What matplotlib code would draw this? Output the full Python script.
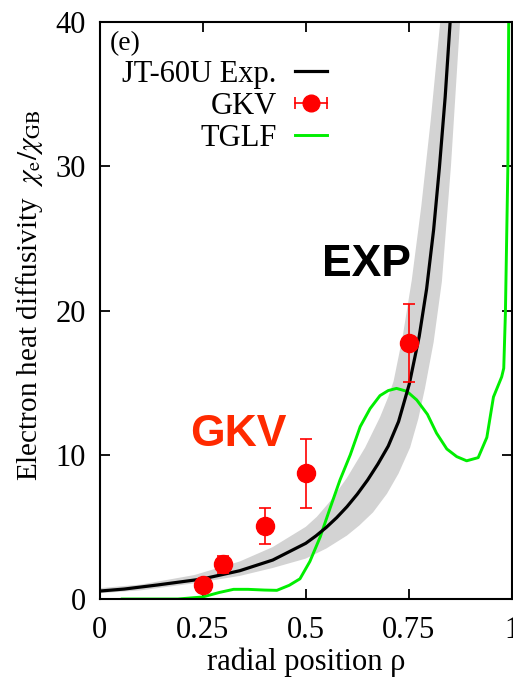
import numpy as np
import matplotlib
matplotlib.use("Agg")
from matplotlib import pyplot as plt
from matplotlib.lines import Line2D
from matplotlib.legend_handler import HandlerBase

# JT-60U experimental profile (black line)
exp_x = [0.0, 0.06, 0.14, 0.25, 0.34, 0.42, 0.5, 0.525, 0.55, 0.575, 0.6,
         0.625, 0.65, 0.675, 0.7, 0.725, 0.751, 0.775, 0.793, 0.81, 0.824,
         0.838, 0.85, 0.862]
exp_y = [0.55, 0.69, 0.97, 1.39, 1.96, 2.7, 3.86, 4.38, 4.97, 5.64, 6.4,
         7.27, 8.25, 9.36, 10.6, 12.3, 14.9, 18.2, 21.5, 25.6, 29.9,
         34.8, 40.0, 46.0]

# uncertainty band edges
band_hi_x = [0.0, 0.1, 0.23, 0.34, 0.42, 0.5, 0.527, 0.56, 0.6, 0.644,
             0.68, 0.7, 0.713, 0.735, 0.757, 0.78, 0.803, 0.826, 0.85]
band_hi_y = [0.75, 1.0, 1.66, 2.6, 3.6, 5.0, 5.7, 6.8, 8.4, 10.5,
             12.6, 14.0, 15.1, 18.2, 22.1, 27.2, 33.2, 40.0, 48.0]
band_lo_x = [0.0, 0.1, 0.23, 0.34, 0.42, 0.5, 0.55, 0.6, 0.63, 0.663,
             0.697, 0.725, 0.753, 0.773, 0.789, 0.81, 0.83, 0.852, 0.874,
             0.89]
band_lo_y = [0.4, 0.6, 1.09, 1.6, 2.15, 2.8, 3.5, 4.4, 5.1, 6.0,
             7.3, 8.7, 10.5, 12.5, 14.6, 17.8, 22.0, 30.0, 40.0,
             48.0]

# GKV simulation points
gkv_x = [0.25, 0.3, 0.4, 0.5, 0.75]
gkv_y = [0.97, 2.4, 5.08, 8.72, 17.73]
gkv_err = [0.0, 0.6, 1.25, 2.4, 2.7]

# TGLF prediction
tglf_x = [0.055, 0.19, 0.25, 0.29, 0.325, 0.36, 0.40, 0.43, 0.46, 0.486,
          0.51, 0.535, 0.559, 0.583, 0.608, 0.632, 0.656, 0.68, 0.7, 0.72,
          0.745, 0.769, 0.795, 0.817, 0.842, 0.866, 0.89, 0.918, 0.939,
          0.955, 0.975, 0.98, 0.984, 0.99, 0.993]
tglf_y = [0.0, 0.0, 0.14, 0.45, 0.67, 0.67, 0.62, 0.6, 0.95, 1.4,
          2.6, 4.3, 6.3, 8.25, 10.0, 11.95, 13.2, 14.1, 14.45, 14.6,
          14.4, 13.8, 12.8, 11.5, 10.4, 9.87, 9.58, 9.8, 11.2,
          14.0, 15.4, 16.0, 19.8, 30.0, 45.0]

x_ticks = [0, 0.25, 0.5, 0.75, 1]
x_ticklabels = ["0", "0.25", "0.5", "0.75", "1"]
y_ticks = [0, 10, 20, 30, 40]

plt.rcParams["font.family"] = ["Liberation Serif", "DejaVu Serif"]
plt.rcParams["mathtext.fontset"] = "stix"


class ErrbarHandler(HandlerBase):
    # gnuplot-style key: horizontal bar with caps and a dot
    def create_artists(self, legend, orig, xd, yd, w, h, fontsize, trans):
        y = (h - yd) / 2
        bar = Line2D([-xd, w - xd], [y, y], color="red", lw=1.2, transform=trans)
        caps = Line2D([-xd, w - xd], [y, y], ls="none", marker="|", ms=9,
                      mew=1.2, mec="red", transform=trans)
        dot = Line2D([w / 2 - xd], [y], ls="none", marker="o", ms=12,
                     color="red", transform=trans)
        return [bar, caps, dot]


fig = plt.figure(figsize=(5.13, 6.81), dpi=100)
ax = fig.add_axes([99.5 / 513, 82 / 681, 412.5 / 513, 577 / 681])

poly_x = np.concatenate([band_hi_x, band_lo_x[::-1]])
poly_y = np.concatenate([band_hi_y, band_lo_y[::-1]])
ax.fill(poly_x, poly_y, color="#d3d3d3", lw=0, zorder=1)

exp_line, = ax.plot(exp_x, exp_y, color="black", lw=2.3, zorder=3)
tglf_line, = ax.plot(tglf_x, tglf_y, color="#00ee00", lw=2.1, zorder=2)
ax.errorbar(gkv_x, gkv_y, yerr=gkv_err, fmt="o", color="red", ms=13,
            elinewidth=1.2, capsize=4.5, capthick=1.2, zorder=4)
gkv_proxy = Line2D([], [], color="red")

ax.set_xlim(0, 1)
ax.set_ylim(0, 40)
ax.set_xticks(x_ticks)
ax.set_xticklabels(x_ticklabels)
ax.set_yticks(y_ticks)
ax.tick_params(direction="in", top=True, right=True, length=7, width=1.3,
               labelsize=22)
ax.tick_params(axis="x", pad=12)
ax.tick_params(axis="y", pad=10)
for s in ax.spines.values():
    s.set_linewidth(1.5)

ax.set_xlabel("radial position ρ", fontsize=22, labelpad=2)
ax.set_ylabel(r"Electron heat diffusivity  $\chi_\mathrm{e}/\chi_\mathrm{GB}$",
              fontsize=21)
ax.yaxis.set_label_coords(-0.132, 0.526)

leg = ax.legend([exp_line, gkv_proxy, tglf_line],
                ["JT-60U Exp.", "GKV", "TGLF"],
                handler_map={gkv_proxy: ErrbarHandler()},
                loc="upper left", bbox_to_anchor=(0.055, 0.935),
                markerfirst=False, frameon=False, fontsize=22,
                handlelength=1.05, handletextpad=0.6, labelspacing=0.1,
                borderpad=0, borderaxespad=0)

ax.text(0.025, 0.985, "(e)", transform=ax.transAxes, fontsize=20,
        va="top", ha="left")
ax.text(0.646, 23.2, "EXP", fontsize=32, fontweight="bold",
        family="Liberation Sans", color="black", ha="center", va="center")
ax.text(0.336, 11.4, "GKV", fontsize=32, fontweight="bold",
        family="Liberation Sans", color="#ff2a00", ha="center", va="center")

fig.savefig("out.png", dpi=100)
